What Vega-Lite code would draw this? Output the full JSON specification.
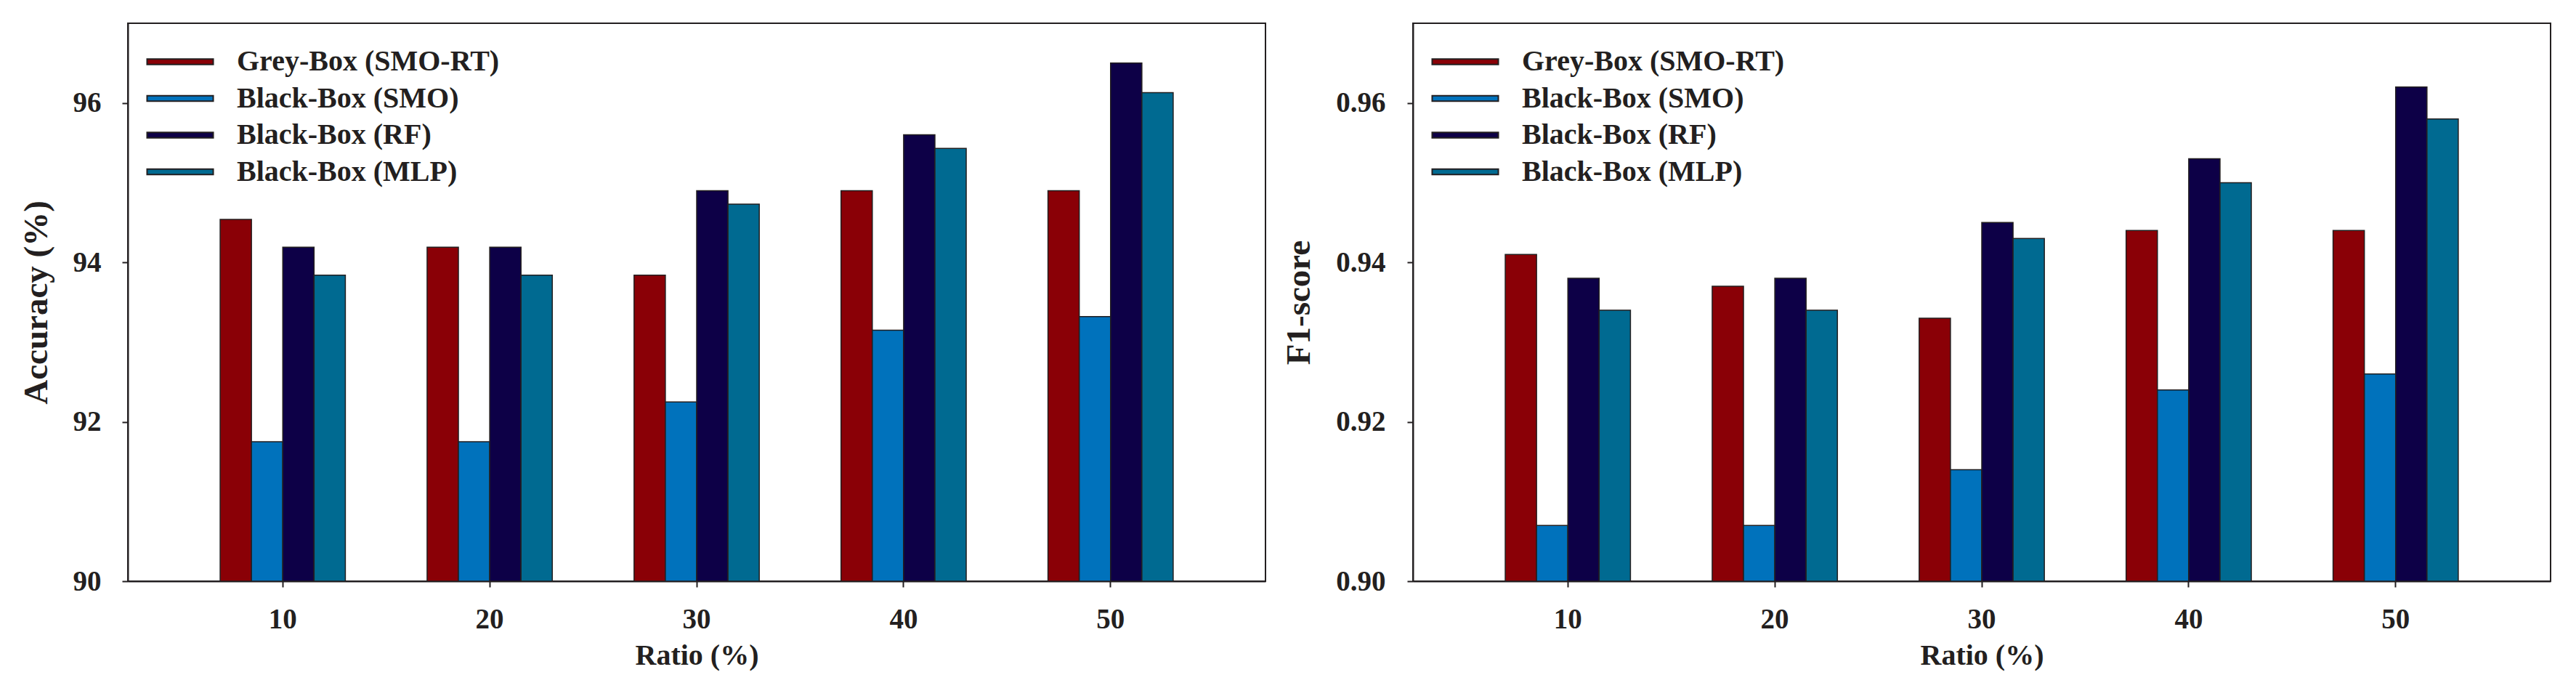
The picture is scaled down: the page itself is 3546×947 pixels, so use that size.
{
  "$schema": "https://vega.github.io/schema/vega-lite/v6.json",
  "background": "white",
  "padding": {"left": 25, "top": 31, "right": 10, "bottom": 10},
  "spacing": 20,
  "datasets": {
    "scores": [
      {"ratio": "10", "model": "Grey-Box (SMO-RT)", "accuracy": 94.54, "f1": 0.941},
      {"ratio": "10", "model": "Black-Box (SMO)", "accuracy": 91.75, "f1": 0.907},
      {"ratio": "10", "model": "Black-Box (RF)", "accuracy": 94.19, "f1": 0.938},
      {"ratio": "10", "model": "Black-Box (MLP)", "accuracy": 93.84, "f1": 0.934},
      {"ratio": "20", "model": "Grey-Box (SMO-RT)", "accuracy": 94.19, "f1": 0.937},
      {"ratio": "20", "model": "Black-Box (SMO)", "accuracy": 91.75, "f1": 0.907},
      {"ratio": "20", "model": "Black-Box (RF)", "accuracy": 94.19, "f1": 0.938},
      {"ratio": "20", "model": "Black-Box (MLP)", "accuracy": 93.84, "f1": 0.934},
      {"ratio": "30", "model": "Grey-Box (SMO-RT)", "accuracy": 93.84, "f1": 0.933},
      {"ratio": "30", "model": "Black-Box (SMO)", "accuracy": 92.25, "f1": 0.914},
      {"ratio": "30", "model": "Black-Box (RF)", "accuracy": 94.9, "f1": 0.945},
      {"ratio": "30", "model": "Black-Box (MLP)", "accuracy": 94.73, "f1": 0.943},
      {"ratio": "40", "model": "Grey-Box (SMO-RT)", "accuracy": 94.9, "f1": 0.944},
      {"ratio": "40", "model": "Black-Box (SMO)", "accuracy": 93.15, "f1": 0.924},
      {"ratio": "40", "model": "Black-Box (RF)", "accuracy": 95.6, "f1": 0.953},
      {"ratio": "40", "model": "Black-Box (MLP)", "accuracy": 95.43, "f1": 0.95},
      {"ratio": "50", "model": "Grey-Box (SMO-RT)", "accuracy": 94.9, "f1": 0.944},
      {"ratio": "50", "model": "Black-Box (SMO)", "accuracy": 93.32, "f1": 0.926},
      {"ratio": "50", "model": "Black-Box (RF)", "accuracy": 96.5, "f1": 0.962},
      {"ratio": "50", "model": "Black-Box (MLP)", "accuracy": 96.13, "f1": 0.958}
    ]
  },
  "data": {"name": "scores"},
  "config": {
    "view": {"stroke": "#231f20", "strokeWidth": 2},
    "font": "Liberation Serif",
    "axis": {
      "labelFont": "Liberation Serif",
      "labelFontWeight": "bold",
      "labelFontSize": 39,
      "labelColor": "#231f20",
      "titleFont": "Liberation Serif",
      "titleFontWeight": "bold",
      "titleColor": "#231f20",
      "tickColor": "#231f20",
      "tickSize": 8,
      "tickWidth": 2,
      "domainColor": "#231f20",
      "domainWidth": 2,
      "grid": false
    },
    "axisX": {"labelPadding": 25, "titleFontSize": 40, "titlePadding": 10, "labelAngle": 0},
    "axisY": {"labelPadding": 29, "titleFontSize": 47, "titlePadding": 26},
    "legend": {
      "title": null,
      "padding": 0,
      "symbolType": "M-6.07,-0.5L6.07,-0.5L6.07,0.5L-6.07,0.5Z",
      "symbolSize": 225,
      "symbolStrokeColor": "#231f20",
      "symbolStrokeWidth": 2,
      "symbolOpacity": 1,
      "labelFont": "Liberation Serif",
      "labelFontWeight": "bold",
      "labelFontSize": 40,
      "labelColor": "#231f20",
      "labelOffset": 58,
      "labelLimit": 0,
      "rowPadding": 10.5
    }
  },
  "resolve": {"legend": {"color": "independent"}, "scale": {"color": "independent"}},
  "hconcat": [
    {
      "width": 1566,
      "height": 768,
      "mark": {"type": "bar", "stroke": "#231f20", "strokeWidth": 1.5},
      "encoding": {
        "x": {"field": "ratio", "type": "ordinal", "title": "Ratio (%)", "scale": {"paddingInner": 0.395, "paddingOuter": 0.446}},
        "xOffset": {"field": "model", "type": "nominal", "sort": ["Grey-Box (SMO-RT)", "Black-Box (SMO)", "Black-Box (RF)", "Black-Box (MLP)"], "scale": {"paddingInner": 0, "paddingOuter": 0}},
        "y": {"field": "accuracy", "type": "quantitative", "title": "Accuracy (%)", "scale": {"domain": [90, 97], "zero": false, "nice": false}, "axis": {"values": [90, 92, 94, 96], "format": "d"}},
        "y2": {"datum": 90},
        "color": {
          "field": "model",
          "type": "nominal",
          "scale": {"domain": ["Grey-Box (SMO-RT)", "Black-Box (SMO)", "Black-Box (RF)", "Black-Box (MLP)"], "range": ["#8a0006", "#0072bc", "#0d0047", "#006a91"]},
          "legend": {"orient": "none", "legendX": 52, "legendY": 33}
        }
      }
    },
    {
      "width": 1566,
      "height": 768,
      "mark": {"type": "bar", "stroke": "#231f20", "strokeWidth": 1.5},
      "encoding": {
        "x": {"field": "ratio", "type": "ordinal", "title": "Ratio (%)", "scale": {"paddingInner": 0.395, "paddingOuter": 0.446}},
        "xOffset": {"field": "model", "type": "nominal", "sort": ["Grey-Box (SMO-RT)", "Black-Box (SMO)", "Black-Box (RF)", "Black-Box (MLP)"], "scale": {"paddingInner": 0, "paddingOuter": 0}},
        "y": {"field": "f1", "type": "quantitative", "title": "F1-score", "scale": {"domain": [0.9, 0.97], "zero": false, "nice": false}, "axis": {"values": [0.9, 0.92, 0.94, 0.96], "format": ".2f", "labelPadding": 30}},
        "y2": {"datum": 0.9},
        "color": {
          "field": "model",
          "type": "nominal",
          "scale": {"domain": ["Grey-Box (SMO-RT)", "Black-Box (SMO)", "Black-Box (RF)", "Black-Box (MLP)"], "range": ["#8a0006", "#0072bc", "#0d0047", "#006a91"]},
          "legend": {"orient": "none", "legendX": 52, "legendY": 33}
        }
      }
    }
  ]
}
